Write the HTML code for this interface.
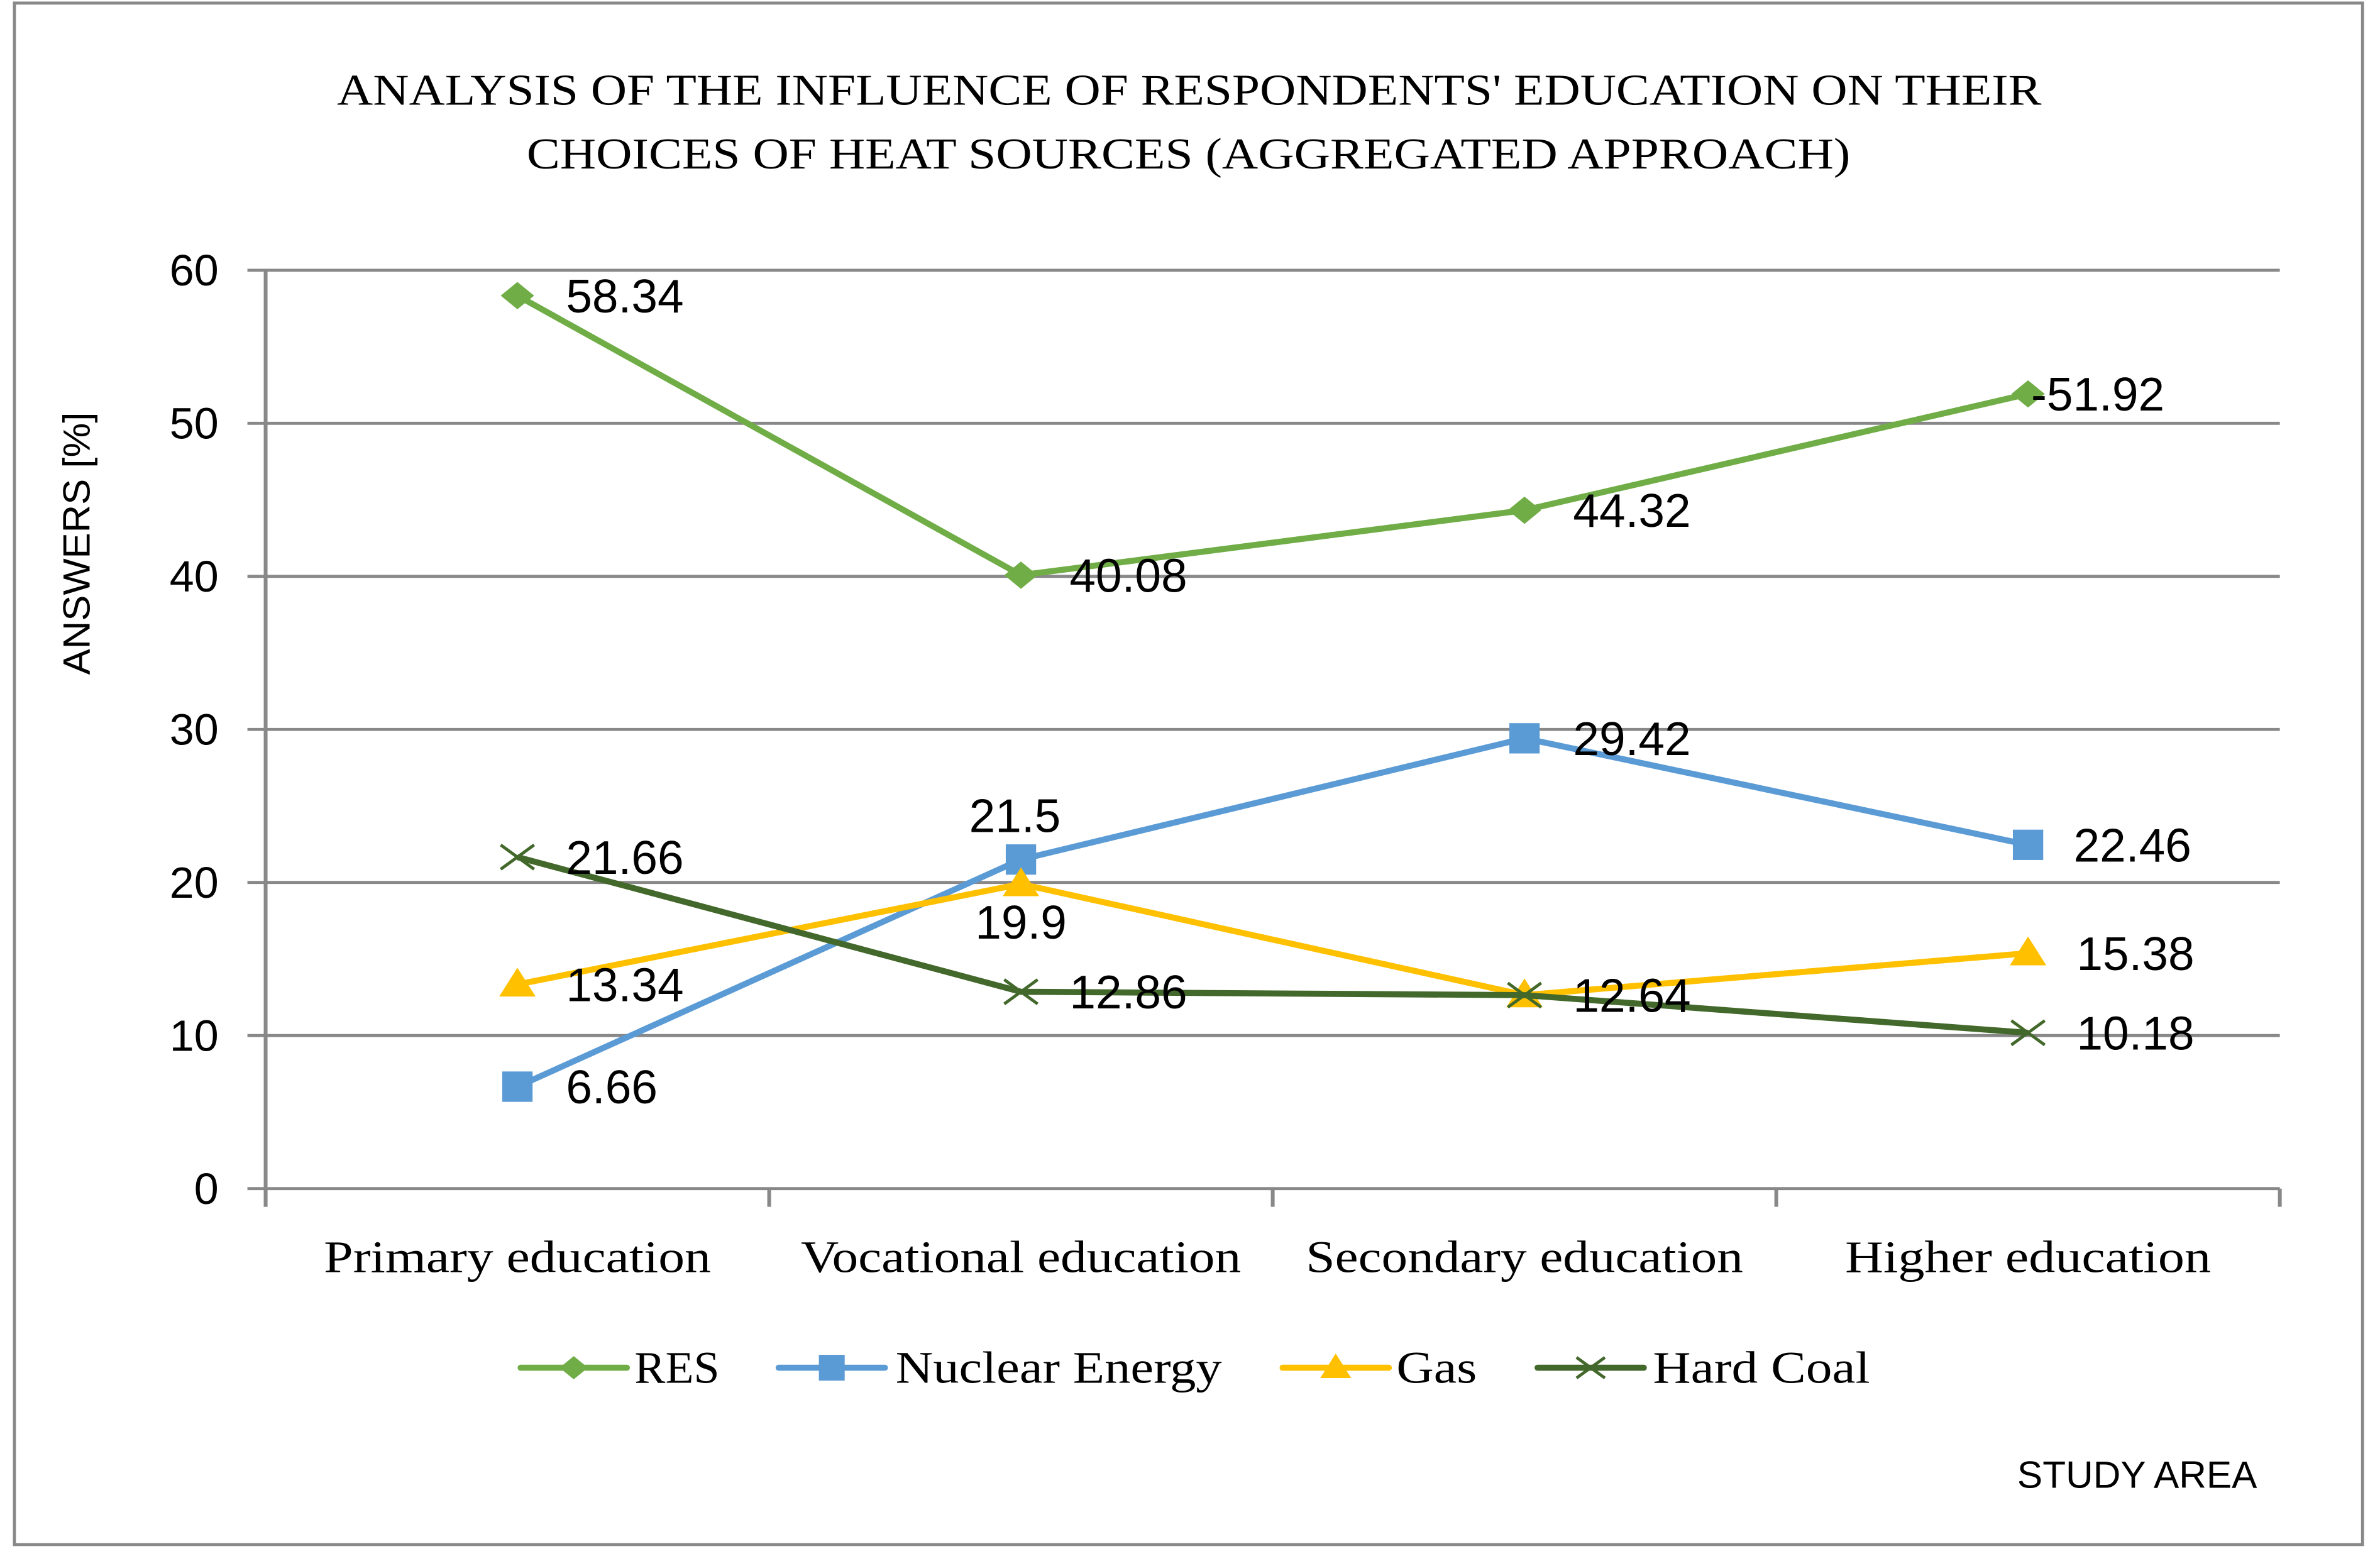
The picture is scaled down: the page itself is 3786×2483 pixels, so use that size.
<!DOCTYPE html>
<html><head><meta charset="utf-8"><style>
html,body{margin:0;padding:0;background:#fff;}
svg{display:block;}
.serif{font-family:"Liberation Serif",serif;}
.sans{font-family:"Liberation Sans",sans-serif;}
</style></head><body>
<svg id="chart" width="3786" height="2483" viewBox="0 0 1568 1028.3" xmlns="http://www.w3.org/2000/svg">
<rect x="9.5" y="2" width="1547" height="1015.5" fill="#fff" stroke="#888" stroke-width="2"/>
<text class="serif" x="222" y="69" font-size="29" textLength="1123" lengthAdjust="spacingAndGlyphs" fill="#000">ANALYSIS OF THE INFLUENCE OF RESPONDENTS' EDUCATION ON THEIR</text>
<text class="serif" x="347" y="111" font-size="29" textLength="872" lengthAdjust="spacingAndGlyphs" fill="#000">CHOICES OF HEAT SOURCES (AGGREGATED APPROACH)</text>
<text class="sans" transform="translate(59,358) rotate(-90)" font-size="25" text-anchor="middle" textLength="173" lengthAdjust="spacingAndGlyphs" fill="#000">ANSWERS [%]</text>
<text class="sans" x="1329" y="980" font-size="25" textLength="158" lengthAdjust="spacingAndGlyphs" fill="#000">STUDY AREA</text>
<g id="grid"></g><g id="axes"></g><g id="series"></g><g id="labels"></g><g id="legend"></g>
</svg>
<script>
const categories = ["Primary education","Vocational education","Secondary education","Higher education"];
const yTicks = [0,10,20,30,40,50,60];
const resValues = [58.34,40.08,44.32,51.92];
const nuclearValues = [6.66,21.5,29.42,22.46];
const gasValues = [13.34,19.9,12.64,15.38];
const coalValues = [21.66,12.86,12.64,10.18];
const resLabels = ["58.34","40.08","44.32","-51.92"];
const nuclearLabels = ["6.66","21.5","29.42","22.46"];
const gasLabels = ["13.34","19.9","12.64","15.38"];
const coalLabels = ["21.66","12.86","12.64","10.18"];

const NS="http://www.w3.org/2000/svg";
const X0=175,X1=1502,Y0=783,Y1=178,YMAX=60;
const band=(X1-X0)/categories.length;
function x(i){return X0+band*(i+0.5);}
function y(v){return Y0-(v/YMAX)*(Y0-Y1);}
function mk(tag,attrs,parent){const e=document.createElementNS(NS,tag);for(const k in attrs)e.setAttribute(k,attrs[k]);parent.appendChild(e);return e;}
const grid=document.getElementById('grid'),axes=document.getElementById('axes'),series=document.getElementById('series'),labels=document.getElementById('labels'),legend=document.getElementById('legend');

yTicks.forEach(t=>{
  const l=mk('line',{x1:X0-12,x2:X1,y1:y(t),y2:y(t),stroke:'#888','stroke-width':2},grid);
  
  
  const tx=mk('text',{x:X0-31,y:y(t)+10,'font-size':29,'text-anchor':'end',class:'sans',fill:'#000'},axes);
  tx.textContent=t;
  
  
});
const ya=mk('line',{x1:X0,x2:X0,y1:Y1,y2:Y0+12,stroke:'#888','stroke-width':2.5},axes);


for(let i=0;i<=categories.length;i++){
  const t=mk('line',{x1:X0+band*i,x2:X0+band*i,y1:Y0,y2:Y0+12,stroke:'#888','stroke-width':2.5},axes);
  
  
}
const catW=[255,290,288,241];
categories.forEach((c,i)=>{
  const t=mk('text',{x:x(i)-catW[i]/2,y:838,'font-size':30,textLength:catW[i],lengthAdjust:'spacingAndGlyphs',class:'serif',fill:'#000'},axes);
  t.textContent=c;
  
  
});

function marker(type,cx,cy,color,parent,s){
  s=s||1;let m;
  if(type==='diamond') m=mk('polygon',{points:`${cx},${cy-9*s} ${cx+11*s},${cy} ${cx},${cy+9*s} ${cx-11*s},${cy}`,fill:color},parent);
  else if(type==='square') m=mk('rect',{x:cx-10*s,y:cy-10*s,width:20*s,height:20*s,fill:color},parent);
  else if(type==='triangle') m=mk('polygon',{points:`${cx},${cy-11*s} ${cx+12*s},${cy+8*s} ${cx-12*s},${cy+8*s}`,fill:color},parent);
  else m=mk('path',{d:`M${cx-11*s},${cy-8*s}L${cx+11*s},${cy+8*s}M${cx-11*s},${cy+8*s}L${cx+11*s},${cy-8*s}`,stroke:color,'stroke-width':2,fill:'none'},parent);
  return m;
}
const defs=[
 {name:'res',label:'RES',vals:resValues,txt:resLabels,color:'#70AD47',mark:'diamond'},
 {name:'nuclear',label:'Nuclear Energy',vals:nuclearValues,txt:nuclearLabels,color:'#5B9BD5',mark:'square'},
 {name:'gas',label:'Gas',vals:gasValues,txt:gasLabels,color:'#FFC000',mark:'triangle'},
 {name:'coal',label:'Hard Coal',vals:coalValues,txt:coalLabels,color:'#43682B',mark:'x'}
];
defs.forEach(d=>{
  const pl=mk('polyline',{points:d.vals.map((v,i)=>x(i)+','+y(v)).join(' '),fill:'none',stroke:d.color,'stroke-width':4,'stroke-linejoin':'round'},series);
  
  
  d.vals.forEach((v,i)=>{
    const m=marker(d.mark,x(i),y(v),d.color,series);
    
    
    let lx=x(i)+32,ly=y(v)+11,anchor='start';
    if(d.name==='nuclear'&&i===1){lx=x(i)-4;ly=y(v)-18;anchor='middle';}
    if(d.name==='gas'&&i===1){lx=x(i);ly=y(v)+36;anchor='middle';}
    if(d.name==='res'&&i===3){lx=x(i)+2;}
    if(d.name==='nuclear'&&i===3){lx=x(i)+30;}
    const t=mk('text',{x:lx,y:ly,'font-size':31,'text-anchor':anchor,class:'sans',fill:'#000'},labels);
    t.textContent=d.txt[i];
    
    
  });
});
const legX=[343,513,845,1013],legTX=[418,590,920,1089],legW=[56,215,53,143];
defs.forEach((d,k)=>{
  const g=mk('g',{},legend);
  
  
  mk('line',{x1:legX[k],x2:legX[k]+70,y1:901,y2:901,stroke:d.color,'stroke-width':4,'stroke-linecap':'round'},g);
  marker(d.mark,legX[k]+35,901,d.color,g,0.85);
  const t=mk('text',{x:legTX[k],y:911,'font-size':30,textLength:legW[k],lengthAdjust:'spacingAndGlyphs',class:'serif',fill:'#000'},g);
  t.textContent=d.label;
});
</script>
</body></html>
